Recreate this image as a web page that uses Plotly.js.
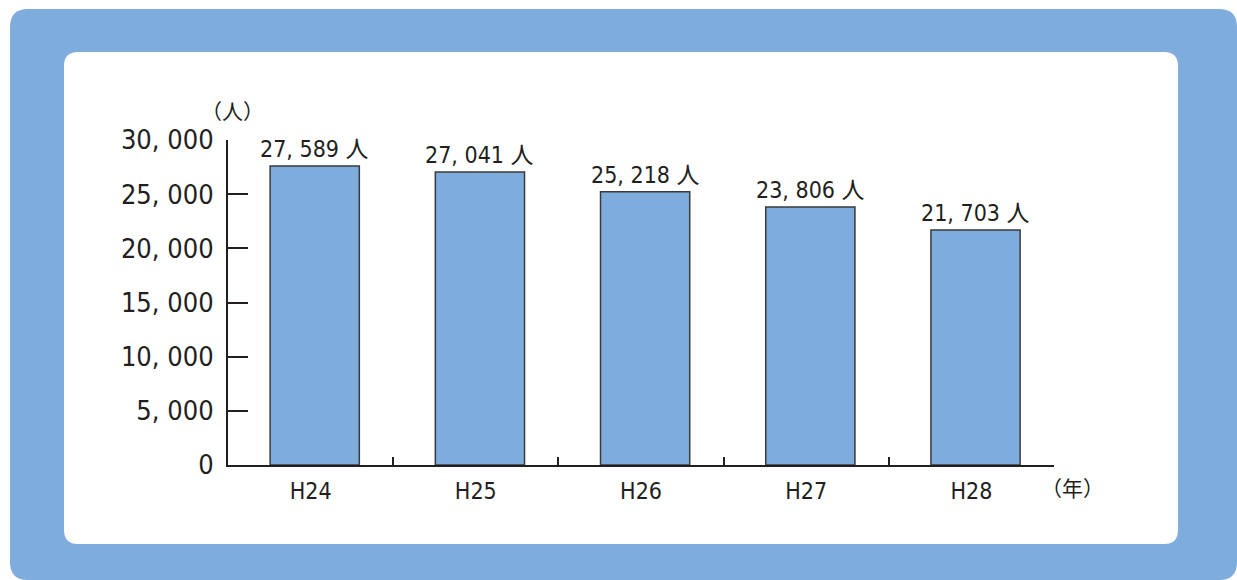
<!DOCTYPE html>
<html>
<head>
<meta charset="utf-8">
<script src="https://cdn.plot.ly/plotly-3.0.1.min.js"></script>
<style>
  html, body { margin: 0; padding: 0; background: #ffffff; }
  #chart { width: 1237px; height: 580px; }
</style>
</head>
<body>
<div id="chart"></div>
<script>
// 年度別の人数
const years = ['H24', 'H25', 'H26', 'H27', 'H28'];
const people = [27589, 27041, 25218, 23806, 21703];
const yTickVals = [0, 5000, 10000, 15000, 20000, 25000, 30000];
const yTickText = ['0', '5, 000', '10, 000', '15, 000', '20, 000', '25, 000', '30, 000'];

const FONT = '"Liberation Sans Narrow", "DejaVu Sans Condensed", "Noto Sans CJK JP", sans-serif';
const INK = '#231f20';
const BLUE = '#7eacdc';

// 描画領域 (ピクセル)
const W = 1237, H = 580;
const L = 228, R = 1054, T = 140, B = 465;

function fmt(n) {
    return n.toLocaleString('en-US').replace(',', ', ') + ' 人';
}

// ピクセル座標 -> paper座標
function px(x) { return (x - L) / (R - L); }
function py(y) { return (B - y) / (B - T); }

function roundRect(x0, y0, x1, y1, r) {
    const p = (x, y) => px(x) + ',' + py(y);
    return 'M' + p(x0 + r, y0) +
        ' L' + p(x1 - r, y0) + ' Q' + p(x1, y0) + ' ' + p(x1, y0 + r) +
        ' L' + p(x1, y1 - r) + ' Q' + p(x1, y1) + ' ' + p(x1 - r, y1) +
        ' L' + p(x0 + r, y1) + ' Q' + p(x0, y1) + ' ' + p(x0, y1 - r) +
        ' L' + p(x0, y0 + r) + ' Q' + p(x0, y0) + ' ' + p(x0 + r, y0) + ' Z';
}

const trace = {
    type: 'bar',
    x: years,
    y: people,
    width: 0.54,
    offset: -0.245,
    marker: { color: BLUE, line: { color: '#3a3a3a', width: 1.5 } },
    hoverinfo: 'skip'
};

const annotations = years.map((yr, i) => ({
    x: yr, y: people[i], xref: 'x', yref: 'y',
    text: fmt(people[i]), showarrow: false,
    xshift: 4, yanchor: 'bottom', yshift: 2,
    font: { family: FONT, size: 23, color: INK }
}));
annotations.push({
    xref: 'paper', yref: 'paper', x: px(232), y: py(112),
    text: '（人）', showarrow: false, xanchor: 'center', yanchor: 'middle',
    font: { family: FONT, size: 21, color: INK }
});
annotations.push({
    xref: 'paper', yref: 'paper', x: px(1072), y: py(489),
    text: '（年）', showarrow: false, xanchor: 'center', yanchor: 'middle',
    font: { family: FONT, size: 21, color: INK }
});

const layout = {
    width: W, height: H,
    margin: { l: L, r: W - R, t: T, b: H - B, pad: 0 },
    paper_bgcolor: 'rgba(0,0,0,0)',
    plot_bgcolor: 'rgba(0,0,0,0)',
    showlegend: false,
    xaxis: {
        type: 'category',
        showline: true, linecolor: INK, linewidth: 2,
        ticks: 'inside', tickson: 'boundaries', ticklen: 8, tickwidth: 2, tickcolor: INK,
        ticklabelstandoff: 4,
        tickfont: { family: FONT, size: 23, color: INK },
        showgrid: false, zeroline: false, fixedrange: true
    },
    yaxis: {
        range: [0, 30000],
        tickvals: yTickVals, ticktext: yTickText,
        showline: true, linecolor: INK, linewidth: 2,
        ticks: 'inside', ticklen: 20, tickwidth: 2, tickcolor: INK,
        ticklabelstandoff: 7,
        tickfont: { family: FONT, size: 27, color: INK },
        showgrid: false, zeroline: false, fixedrange: true
    },
    shapes: [
        {
            type: 'path', xref: 'paper', yref: 'paper', layer: 'below',
            path: roundRect(10, 9, 1237, 580, 18),
            fillcolor: BLUE, line: { width: 0 }
        },
        {
            type: 'path', xref: 'paper', yref: 'paper', layer: 'below',
            path: roundRect(64, 52, 1178, 544, 14),
            fillcolor: '#ffffff', line: { width: 0 }
        }
    ],
    annotations: annotations
};

Plotly.newPlot('chart', [trace], layout, { displayModeBar: false, staticPlot: true });
</script>
</body>
</html>
